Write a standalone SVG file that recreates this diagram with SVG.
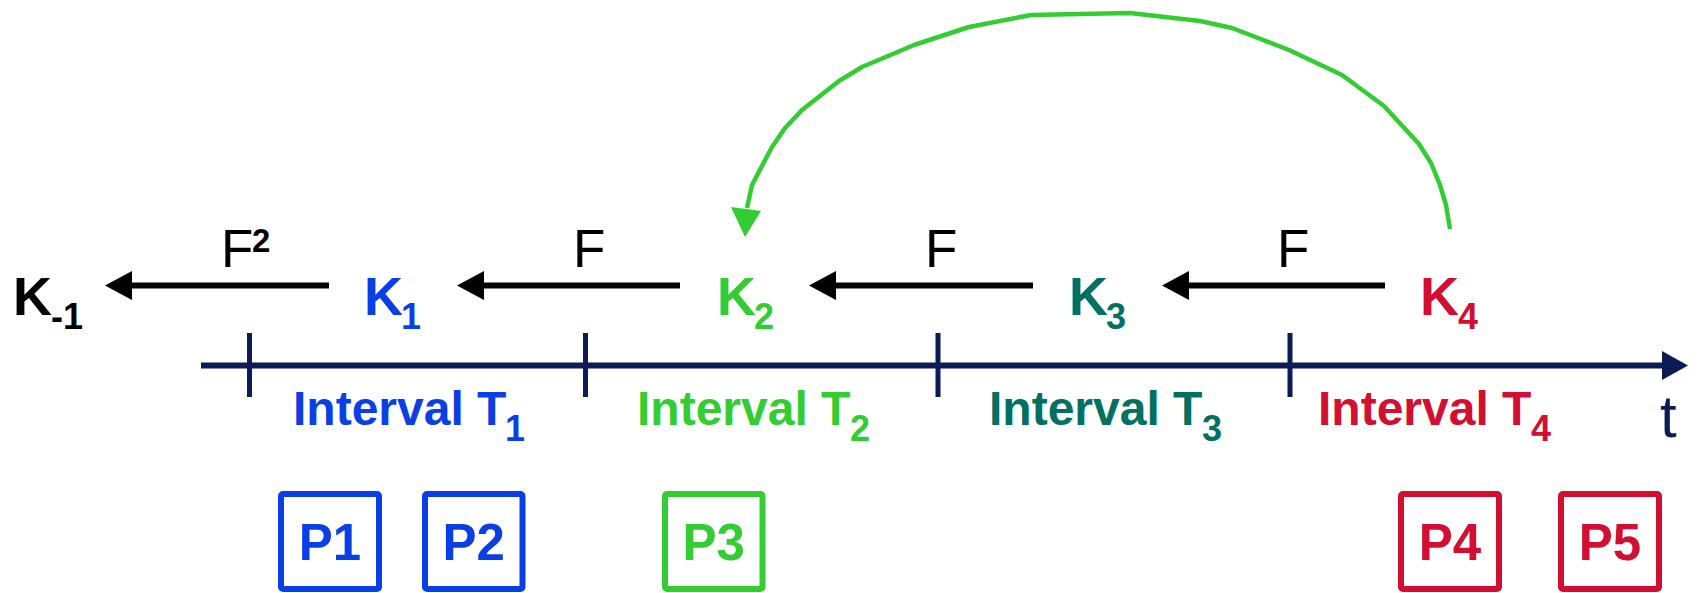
<svg xmlns="http://www.w3.org/2000/svg" width="1707" height="593" viewBox="0 0 1707 593">
<style>
text{font-family:"Liberation Sans",Arial,sans-serif}
.k{font-size:54px;font-weight:bold}
.ks{font-size:36px;font-weight:bold}
.f{font-size:53px;fill:#000}
.iv{font-size:48px;font-weight:bold}
.ivs{font-size:36px;font-weight:bold}
.p{font-size:51px;font-weight:bold;text-anchor:middle}
.box{fill:#fff;stroke-width:6;}
.blue{fill:#0b3fe6}.green{fill:#33cc33}.teal{fill:#007062}.red{fill:#d20f32}
.sblue{stroke:#0b3fe6}.sgreen{stroke:#33cc33}.sred{stroke:#d20f32}
.arr{stroke:#000;stroke-width:6;fill:none}
.ax{stroke:#0b1b55;stroke-width:6;fill:none}
.tick{stroke:#0b1b55;stroke-width:5}
</style>

<g id="connectors">
<line class="arr" x1="329" y1="285.5" x2="132" y2="285.5"/>
<path d="M105,285.5 L132,271 L132,300 Z" fill="#000"/>
<line class="arr" x1="680" y1="285.5" x2="484" y2="285.5"/>
<path d="M457,285.5 L484,271 L484,300 Z" fill="#000"/>
<line class="arr" x1="1033" y1="285.5" x2="836" y2="285.5"/>
<path d="M809,285.5 L836,271 L836,300 Z" fill="#000"/>
<line class="arr" x1="1385" y1="285.5" x2="1189" y2="285.5"/>
<path d="M1162,285.5 L1189,271 L1189,300 Z" fill="#000"/>
<text class="f" x="221" y="267">F</text><text x="252" y="252" style="font-size:33px;font-weight:bold">2</text>
<text class="f" x="573" y="267">F</text>
<text class="f" x="925" y="267">F</text>
<text class="f" x="1277" y="267">F</text>
<polyline points="1450,229 1446,205 1440,185 1431,163 1419,144 1384,106 1342,75 1289,50 1232,28 1200,21 1130,13 1031,15 969,27 914,45 862,67 839,81 802,110 785,128 772,147 752,185 747,208" fill="none" stroke="#33cc33" stroke-width="4.5" stroke-linejoin="round"/>
<path d="M731,207 L761,211 L745,237 Z" fill="#33cc33"/>
</g>

<g id="axis">
<line class="ax" x1="201" y1="365.5" x2="1663" y2="365.5"/>
<path d="M1688,365.5 L1662,351 L1662,380 Z" fill="#0b1b55"/>
<line class="tick" x1="249.5" y1="333" x2="249.5" y2="397"/>
<line class="tick" x1="585.5" y1="333" x2="585.5" y2="397"/>
<line class="tick" x1="938" y1="333" x2="938" y2="397"/>
<line class="tick" x1="1290" y1="333" x2="1290" y2="397"/>
<text x="1660" y="437" style="font-size:60px;fill:#0b1b55">t</text>
</g>

<g id="Km1"><text class="k" x="13" y="315" fill="#000">K</text><text class="ks" x="51" y="329" fill="#000">-1</text></g>
<g id="K1"><text class="k blue" x="364" y="315">K</text><text class="ks blue" x="401" y="329">1</text></g>
<g id="K2"><text class="k green" x="717" y="315">K</text><text class="ks green" x="754" y="329">2</text></g>
<g id="K3"><text class="k teal" x="1069" y="315">K</text><text class="ks teal" x="1106" y="329">3</text></g>
<g id="K4"><text class="k red" x="1420" y="315">K</text><text class="ks red" x="1458" y="329">4</text></g>

<g id="T1"><text class="iv blue" x="293" y="425">Interval T</text><text class="ivs blue" x="505" y="441">1</text></g>
<g id="T2"><text class="iv green" x="637" y="425">Interval T</text><text class="ivs green" x="850" y="441">2</text></g>
<g id="T3"><text class="iv teal" x="989" y="425">Interval T</text><text class="ivs teal" x="1202" y="441">3</text></g>
<g id="T4"><text class="iv red" x="1318" y="425">Interval T</text><text class="ivs red" x="1531" y="441">4</text></g>

<g id="P1"><rect class="box sblue" x="281" y="494" width="98" height="95" rx="2"/><text class="p blue" x="330" y="560">P1</text></g>
<g id="P2"><rect class="box sblue" x="425" y="494" width="97.5" height="95" rx="2"/><text class="p blue" x="473.75" y="560">P2</text></g>
<g id="P3"><rect class="box sgreen" x="665" y="494" width="97.5" height="95" rx="2"/><text class="p green" x="713.75" y="560">P3</text></g>
<g id="P4"><rect class="box sred" x="1401" y="494" width="98" height="95" rx="2"/><text class="p red" x="1450" y="560">P4</text></g>
<g id="P5"><rect class="box sred" x="1561" y="494" width="98" height="95" rx="2"/><text class="p red" x="1610" y="560">P5</text></g>
</svg>
